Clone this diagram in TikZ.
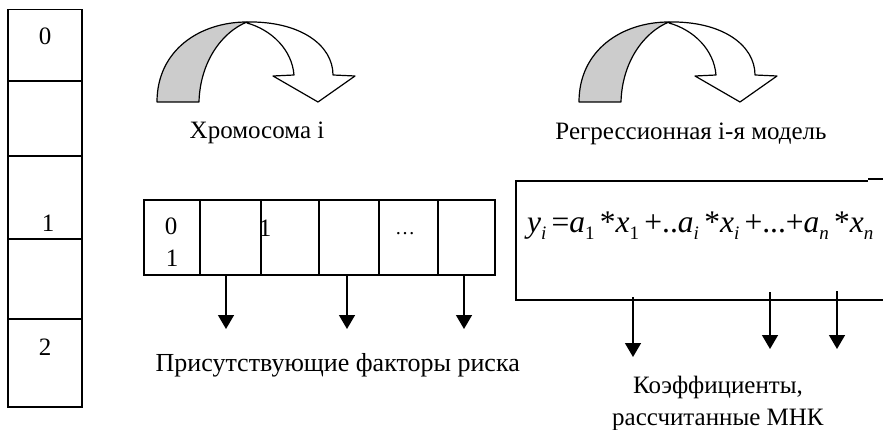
\documentclass[tikz,border=0pt]{standalone}
\usepackage{fontspec}
\setmainfont{Liberation Serif}
\usetikzlibrary{arrows.meta}
\newcommand{\sbs}[1]{\raisebox{-0.22em}{\fontsize{19}{20}\selectfont #1}}
\begin{document}
\begin{tikzpicture}[x=1pt,y=-1pt,
  box/.style={draw=black,line width=1.2pt},
  lbl/.style={inner sep=0pt,font=\fontsize{25}{30}\selectfont},
  dn/.style={line width=1.5pt,-{Triangle[width=16pt,length=14pt]}},
  band/.style={draw=black,line width=1.2pt,line join=round},
  curvarrow/.pic={
    \filldraw[band,fill=gray!40] (157,102) .. controls (157,50) and (200,22) .. (247,22)
      .. controls (222,32) and (200,62) .. (199,102) -- cycle;
    \filldraw[band,fill=white] (247,22) .. controls (300,21) and (333,45) .. (333,75)
      -- (355,76) -- (318,102) -- (273,76) -- (294,75)
      .. controls (292,50) and (272,30) .. (247,23) -- cycle;
  }]
\useasboundingbox (0,0) rectangle (883,430);
\fill[white] (0,0) rectangle (883,430);

% left column
\draw[box] (8,9.5) rectangle (82,407);
\foreach \y in {81,156,239,319} \draw[box] (8,\y) -- (82,\y);
\node[lbl,anchor=base] (c0) at (45,45) {0};
\node[lbl,anchor=base] (c1) at (48,232) {1};
\node[lbl,anchor=base] (c2) at (45,355) {2};

% curved arrows
\pic at (0,0) {curvarrow};
\pic at (422,0) {curvarrow};
\node[lbl,anchor=base] (chrom) at (257,139) {Хромосома i};
\node[lbl,anchor=base] (regr) at (691,140) {Регрессионная i-я модель};

% chromosome box
\draw[box] (144,200) rectangle (495,275);
\foreach \x in {200,261,319,379,438} \draw[box] (\x,200) -- (\x,275);
\node[lbl,anchor=base] (m0) at (171,235) {0};
\node[lbl,anchor=base] (m1) at (172,266) {1};
\node[lbl,anchor=base] (m2) at (265,237) {1};
\node[lbl,anchor=base] (mdots) at (405,235) {\fontsize{20}{24}\selectfont\dots};
\coordinate (ca1) at (226,276);
\coordinate (ca2) at (347,276);
\coordinate (ca3) at (464,276);
\coordinate (ct1) at (226,329);
\coordinate (ct2) at (347,329);
\coordinate (ct3) at (464,329);
\draw[dn] (ca1) -- (ct1);
\draw[dn] (ca2) -- (ct2);
\draw[dn] (ca3) -- (ct3);
\node[lbl,anchor=base east,font=\fontsize{26}{30}\selectfont] (risk) at (520,371) {Присутствующие факторы риска};

% regression box
\draw[box] (883,300) -- (516,300) -- (516,181) -- (868,181);
\draw[box] (868,179) -- (883,179);
\node[inner sep=0pt,anchor=base west,font=\fontsize{31.5}{36}\selectfont] (formula) at (527,233)
  {\textit{y}\sbs{\textit{i}}\,=\textit{a}\sbs{1}\,*\textit{x}\sbs{1}\,+..\textit{a}\sbs{\textit{i}}\,*\textit{x}\sbs{\textit{i}}\,+...+\textit{a}\sbs{\textit{n}}\,*\textit{x}\sbs{\textit{n}}};
\coordinate (ra1) at (633,297);
\coordinate (ra2) at (770,292);
\coordinate (ra3) at (837,291);
\coordinate (rt1) at (633,357);
\coordinate (rt2) at (770,349);
\coordinate (rt3) at (837,349);
\draw[dn] (ra1) -- (rt1);
\draw[dn] (ra2) -- (rt2);
\draw[dn] (ra3) -- (rt3);
\node[lbl,anchor=base west] (coef1) at (633,393) {Коэффициенты,};
\node[lbl,anchor=base west] (coef2) at (612,425) {рассчитанные МНК};
\end{tikzpicture}
\end{document}
